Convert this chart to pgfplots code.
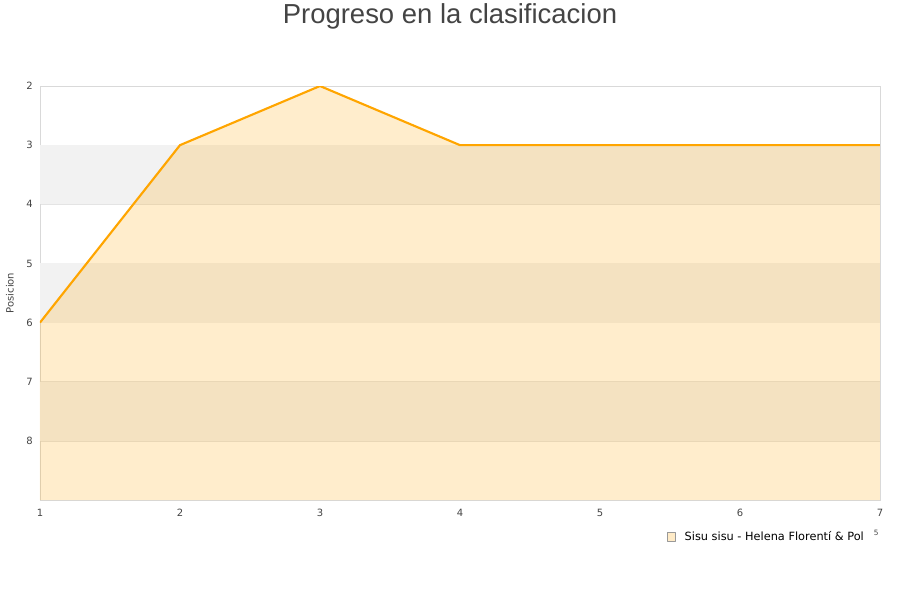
\documentclass[border=0pt]{standalone}
\usepackage{fontspec}
\setmainfont{DejaVu Sans}
\newfontfamily\titlefont{Liberation Sans}
\usepackage{pgfplots}
\pgfplotsset{compat=1.18}
\definecolor{serie}{HTML}{FFA500}
\definecolor{banda}{HTML}{F2F2F2}
\definecolor{marco}{HTML}{D9D9D9}
\definecolor{texto}{HTML}{444444}
\begin{document}
\begin{tikzpicture}[x=0.75pt,y=0.75pt]
\useasboundingbox (0,0) rectangle (900,600);
\node[font=\titlefont\fontsize{20.6}{22}\selectfont, text=texto] at (450,584) {Progreso en la clasificacion};
\begin{axis}[
    at={(40pt*0.75,100pt*0.75)}, anchor=south west,
    scale only axis, width=630pt, height=310.5pt,
    xmin=1, xmax=7, ymin=2, ymax=9,
    y dir=reverse,
    xtick={1,...,7}, ytick={2,...,8},
    major tick length=0pt,
    axis line style={marco},
    ymajorgrids, grid style={marco!70, line width=0.4pt},
    tick label style={font=\fontsize{7.5}{9}\selectfont, text=texto},
    /pgf/number format/assume math mode=true,
    xticklabel style={yshift=-3pt},
    yticklabel style={xshift=-2pt},
    ylabel={Posicion},
    ylabel style={font=\fontsize{7.5}{9}\selectfont, text=texto,
        at={(rel axis cs:-0.0357,0.5)}, anchor=center},
    legend style={at={(0.989,-0.089)}, anchor=east, draw=none, fill=none,
        font=\fontsize{8.5}{10}\selectfont},
    legend cell align=left,
    clip mode=individual,
]
\fill[banda] (axis cs:1,3) rectangle (axis cs:7,4);
\fill[banda] (axis cs:1,5) rectangle (axis cs:7,6);
\fill[banda] (axis cs:1,7) rectangle (axis cs:7,8);
\addplot[draw=none, fill=serie, fill opacity=0.2, forget plot]
    coordinates {(1,6) (2,3) (3,2) (4,3) (5,3) (6,3) (7,3) (7,9) (1,9)} -- cycle;
\addplot[serie, line width=1.6pt, line join=round,
    legend image code/.code={\draw[fill=serie!22, draw=gray!80, line width=0.4pt] (0pt,-3.2pt) rectangle (6.6pt,3.2pt); \path (10.5pt,0pt);}]
    coordinates {(1,6) (2,3) (3,2) (4,3) (5,3) (6,3) (7,3)};
\addlegendentry{Sisu sisu - Helena Florentí \& Pol}
\node[font=\fontsize{5.5}{6}\selectfont, text=texto] at (rel axis cs:0.9955,-0.08) {5};
\end{axis}
\end{tikzpicture}
\end{document}
